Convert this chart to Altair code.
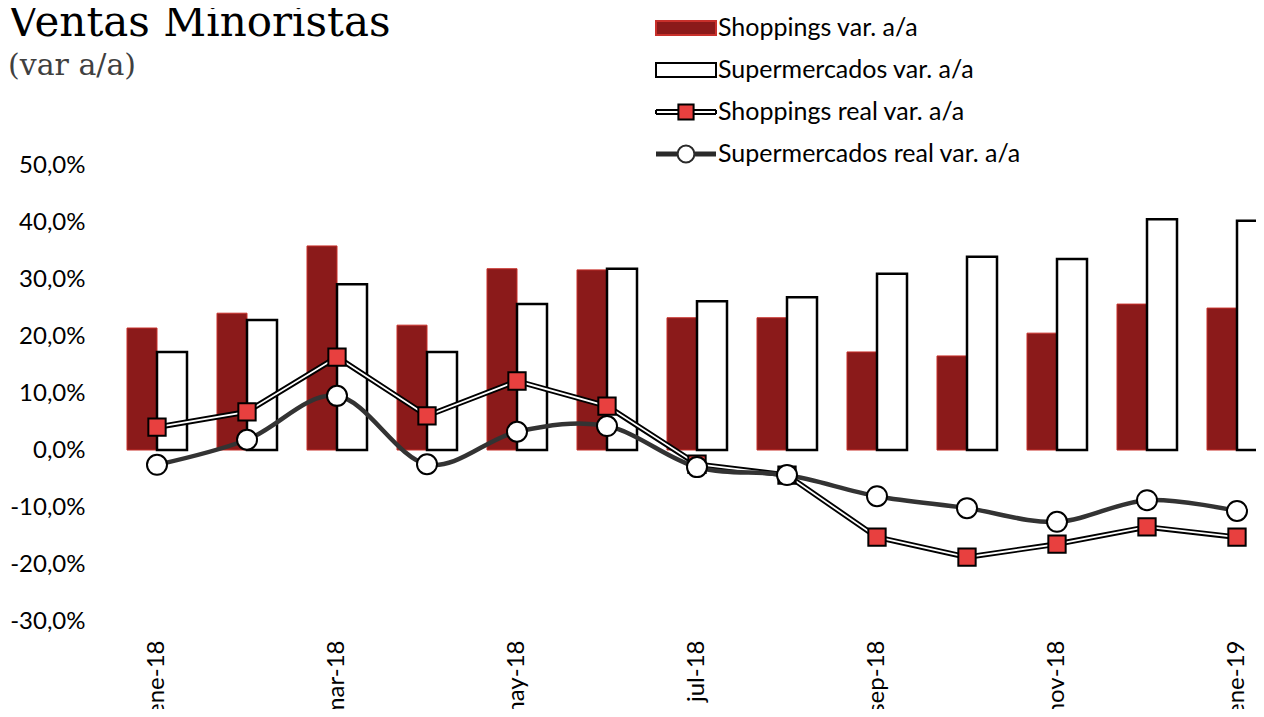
import altair as alt
import pandas as pd

months = ["ene-18", "feb-18", "mar-18", "abr-18", "may-18", "jun-18", "jul-18",
          "ago-18", "sep-18", "oct-18", "nov-18", "dic-18", "ene-19"]
shop_var = [21.4, 24.0, 35.8, 21.9, 31.8, 31.6, 23.2, 23.2, 17.2, 16.5, 20.5, 25.6, 24.9]
super_var = [17.2, 22.8, 29.1, 17.2, 25.6, 31.8, 26.1, 26.8, 30.9, 33.9, 33.5, 40.5, 40.2]
shop_real = [4.0, 6.7, 16.3, 6.0, 12.1, 7.7, -2.5, -4.4, -15.3, -18.8, -16.5, -13.5, -15.3]
super_real = [-2.6, 1.8, 9.5, -2.5, 3.2, 4.2, -3.0, -4.4, -8.1, -10.2, -12.6, -8.8, -10.7]
y_ticks = [-30, -20, -10, 0, 10, 20, 30, 40, 50]
x_labels = months[::2]

S_VAR = "Shoppings var. a/a"
M_VAR = "Supermercados var. a/a"
S_REAL = "Shoppings real var. a/a"
M_REAL = "Supermercados real var. a/a"
series = [S_VAR, M_VAR, S_REAL, M_REAL]

bars_df = pd.DataFrame({"mes": months * 2,
                        "serie": [S_VAR] * len(months) + [M_VAR] * len(months),
                        "valor": shop_var + super_var})
sreal_df = pd.DataFrame({"mes": months, "serie": S_REAL, "valor": shop_real})
mreal_df = pd.DataFrame({"mes": months, "serie": M_REAL, "valor": super_real})
leg_df = pd.DataFrame({"serie": series})

# legend symbol paths (unit = sqrt(symbolSize)/2 = 20 px)
p_bar = "M-1.5,-0.35H1.5V0.35H-1.5Z"
p_sreal = ("M-1.5,-0.1H-0.38M0.38,-0.1H1.5M-1.5,0.1H-0.38M0.38,0.1H1.5"
           "M-1.5,-0.1V0.1M1.5,-0.1V0.1"
           "M-0.38,-0.38H0.38V0.38H-0.38Z")
p_mreal = ("M-1.5,-0.075H-0.42M-1.5,-0.025H-0.42M-1.5,0.025H-0.42M-1.5,0.075H-0.42"
           "M0.42,-0.075H1.5M0.42,-0.025H1.5M0.42,0.025H1.5M0.42,0.075H1.5"
           "M0.42,0A0.42,0.42,0,1,1,-0.42,0A0.42,0.42,0,1,1,0.42,0Z")

fill_scale = alt.Scale(domain=series, range=["#8B1A1A", "#FFFFFF", "#E8403F", "#FFFFFF"])
stroke_scale = alt.Scale(domain=series, range=["#C8302B", "#000000", "#000000", "#2A2A2A"])
shape_scale = alt.Scale(domain=series, range=[p_bar, p_bar, p_sreal, p_mreal])

FONT = "Lato"

leg_kw = dict(title=None, orient="none", legendX=553, legendY=-158, padding=0,
              labelFont=FONT, labelFontSize=25, labelColor="#000000", labelLimit=0,
              symbolSize=1600, symbolStrokeWidth=2, labelOffset=11, rowPadding=8,
              symbolOpacity=1)

x_enc = alt.X("mes:N", sort=months,
              scale=alt.Scale(domain=months, paddingInner=1 / 3, paddingOuter=1 / 6),
              axis=alt.Axis(values=x_labels, labelAngle=-90, labelPadding=19,
                            domain=False, ticks=False, tickSize=0, grid=False,
                            labelFont=FONT, labelFontSize=24, labelColor="#000000",
                            title=None))
y_enc = alt.Y("valor:Q",
              scale=alt.Scale(domain=[-30, 50], nice=False, zero=False),
              axis=alt.Axis(values=y_ticks,
                            labelExpr="(datum.value < 0 ? '-' : '') + abs(datum.value) + ',0%'",
                            domain=False, ticks=False, tickSize=0, grid=False,
                            labelPadding=27, labelFont=FONT, labelFontSize=24,
                            labelColor="#000000", title=None))

legend_layer = alt.Chart(leg_df).mark_point(filled=True, strokeWidth=2, opacity=1).encode(
    shape=alt.Shape("serie:N", scale=shape_scale, legend=alt.Legend(**leg_kw)),
    fill=alt.Fill("serie:N", scale=fill_scale, legend=alt.Legend(**leg_kw)),
    stroke=alt.Stroke("serie:N", scale=stroke_scale, legend=alt.Legend(**leg_kw)),
).transform_filter("false")

bars = alt.Chart(bars_df).mark_bar().encode(
    x=x_enc,
    xOffset=alt.XOffset("serie:N", sort=[S_VAR, M_VAR],
                        scale=alt.Scale(domain=[S_VAR, M_VAR], paddingInner=0, paddingOuter=0)),
    y=y_enc,
    fill=alt.Fill("serie:N", scale=fill_scale),
    stroke=alt.Stroke("serie:N", scale=stroke_scale),
    strokeWidth=alt.condition(alt.datum.serie == S_VAR, alt.value(1), alt.value(2.5)),
)

sreal_outer = alt.Chart(sreal_df).mark_line(color="#000000", strokeWidth=5.5).encode(
    x=alt.X("mes:N", sort=months), y="valor:Q")
sreal_inner = alt.Chart(sreal_df).mark_line(color="#FFFFFF", strokeWidth=1.8).encode(
    x=alt.X("mes:N", sort=months), y="valor:Q")
sreal_pts = alt.Chart(sreal_df).mark_point(shape="square", filled=True, size=300,
                                           stroke="#000000", strokeWidth=2, opacity=1).encode(
    x=alt.X("mes:N", sort=months), y="valor:Q",
    fill=alt.Fill("serie:N", scale=fill_scale))

mreal_line = alt.Chart(mreal_df).mark_line(color="#333333", strokeWidth=4.5,
                                           interpolate="cardinal").encode(
    x=alt.X("mes:N", sort=months), y="valor:Q")
mreal_pts = alt.Chart(mreal_df).mark_point(shape="circle", filled=True, size=400,
                                           stroke="#000000", strokeWidth=2, opacity=1).encode(
    x=alt.X("mes:N", sort=months), y="valor:Q",
    fill=alt.Fill("serie:N", scale=fill_scale))

chart = alt.layer(legend_layer, bars, sreal_outer, sreal_inner, sreal_pts, mreal_line,
                  mreal_pts).properties(
    width=1170, height=456,
    padding={"left": 104, "top": 157, "right": -26, "bottom": 88},
    autosize=alt.AutoSizeParams(type="none"),
    background="#FFFFFF",
    title=alt.TitleParams(
        text="Ventas Minoristas", subtitle="(var a/a)",
        anchor="start", frame="group", orient="top",
        font="DejaVu Serif", fontSize=42, fontWeight="normal", color="#000000",
        subtitleFont="DejaVu Serif", subtitleFontSize=30, subtitleColor="#404040",
        subtitlePadding=6, dx=-104, dy=75, offset=0),
).configure_view(stroke=None)

chart.save("out.html", embed_options={"renderer": "svg", "actions": False})
